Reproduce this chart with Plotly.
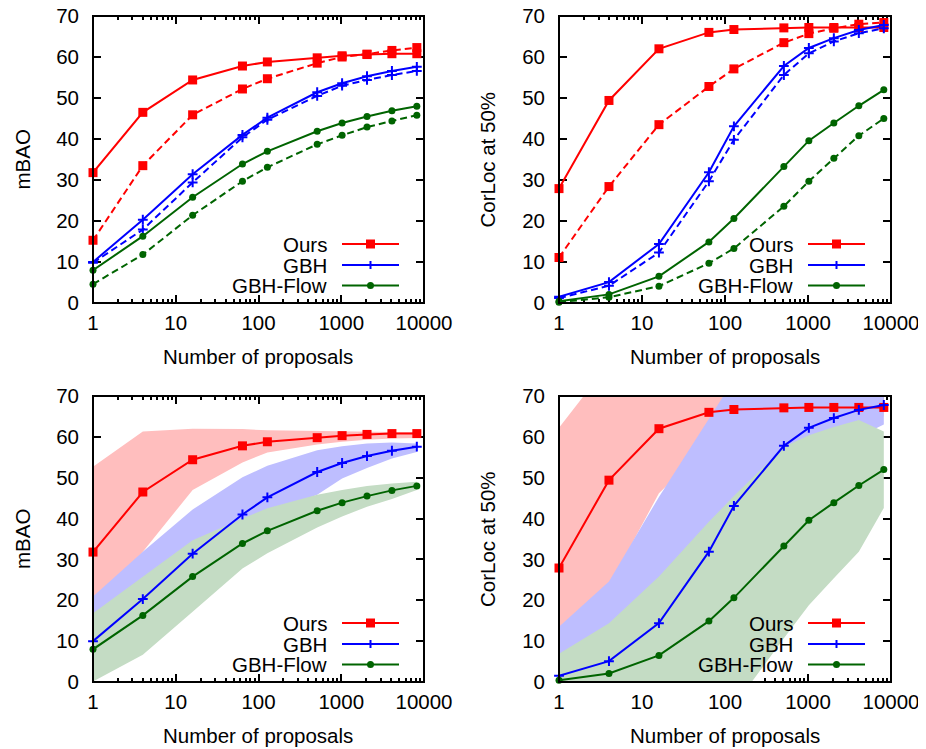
import plotly.graph_objects as go

# the page body adds an 8px margin, so the figure is offset by OFF pixels
OFF = 8
W, H = 918, 741
FONT = "Liberation Sans, Arial, Helvetica, sans-serif"

proposals = [1, 4, 16, 64, 128, 512, 1024, 2048, 4096, 8192]

# Top-left: mBAO (solid = full, dashed = variant)
mbao_ours = [31.8, 46.5, 54.4, 57.8, 58.8, 59.8, 60.3, 60.6, 60.8, 60.8]
mbao_ours_dash = [15.3, 33.5, 45.9, 52.2, 54.7, 58.5, 60.0, 60.7, 61.6, 62.3]
mbao_gbh = [10.0, 20.3, 31.4, 41.0, 45.2, 51.4, 53.6, 55.3, 56.6, 57.6]
mbao_gbh_dash = [9.8, 17.9, 29.4, 40.4, 44.7, 50.5, 53.0, 54.4, 55.6, 56.6]
mbao_flow = [8.0, 16.3, 25.8, 33.9, 37.0, 41.9, 43.9, 45.5, 46.9, 48.0]
mbao_flow_dash = [4.6, 11.8, 21.4, 29.7, 33.1, 38.7, 40.9, 42.9, 44.4, 45.8]

# Top-right: CorLoc at 50%
corloc_ours = [27.9, 49.4, 62.0, 66.0, 66.7, 67.1, 67.2, 67.2, 67.2, 67.2]
corloc_ours_dash = [11.1, 28.4, 43.5, 52.8, 57.1, 63.5, 65.7, 67.0, 68.0, 68.4]
corloc_gbh = [1.5, 5.1, 14.4, 31.9, 43.1, 57.8, 62.2, 64.6, 66.6, 67.8]
corloc_gbh_dash = [1.2, 4.2, 12.3, 29.7, 39.8, 55.6, 60.9, 63.8, 65.8, 67.0]
corloc_flow = [0.4, 2.1, 6.5, 14.9, 20.6, 33.3, 39.6, 43.9, 48.1, 52.0]
corloc_flow_dash = [0.2, 1.4, 4.1, 9.7, 13.3, 23.6, 29.7, 35.3, 40.8, 45.0]

# Bottom-left: mBAO spread bands (upper / lower)
mbao_ours_hi = [52.7, 61.3, 62.0, 61.9, 61.6, 61.4, 61.3, 61.3, 61.2, 61.2]
mbao_ours_lo = [18.0, 31.9, 47.0, 53.7, 56.2, 58.1, 58.8, 59.3, 59.6, 59.7]
mbao_gbh_hi = [20.9, 31.9, 42.2, 50.1, 52.9, 56.7, 57.7, 58.4, 58.6, 58.4]
mbao_gbh_lo = [12.0, 18.0, 26.0, 36.0, 41.0, 45.8, 49.8, 52.4, 54.7, 56.3]
mbao_flow_hi = [16.8, 25.8, 34.7, 40.0, 42.5, 45.8, 47.0, 48.0, 48.6, 49.0]
mbao_flow_lo = [0.1, 6.7, 17.2, 27.8, 31.5, 37.8, 40.5, 42.9, 44.8, 47.0]

# Bottom-right: CorLoc spread bands (upper / lower)
corloc_ours_hi = [62.2, 78.0, 80.0, 79.0, 78.0, 77.0, 76.0, 75.0, 75.0, 74.0]
corloc_ours_lo = [10.0, 23.4, 46.2, 58.0, 62.0, 64.0, 65.0, 65.0, 65.0, 65.0]
corloc_gbh_hi = [13.5, 24.6, 45.3, 64.1, 74.0, 78.0, 77.0, 76.0, 75.0, 74.0]
corloc_gbh_lo = [0.0, 2.0, 8.0, 22.0, 30.0, 44.0, 52.0, 56.0, 60.0, 63.0]
corloc_flow_hi = [6.9, 14.4, 25.8, 39.2, 45.5, 57.5, 60.4, 62.4, 64.1, 61.3]
corloc_flow_lo = [-12.0, -15.0, -15.0, -10.0, -5.9, 10.7, 18.8, 25.4, 31.9, 42.6]

x_ticks = [1, 10, 100, 1000, 10000]
x_tick_labels = ["1", "10", "100", "1000", "10000"]
y_ticks = [0, 10, 20, 30, 40, 50, 60, 70]

series_names = ["Ours", "GBH", "GBH-Flow"]
RED, BLUE, GREEN = "#ff0000", "#0000ff", "#006400"
BAND = {"Ours": "rgb(255,190,190)", "GBH": "rgb(190,190,255)", "GBH-Flow": "rgb(196,220,196)"}
COL = {"Ours": RED, "GBH": BLUE, "GBH-Flow": GREEN}
MARK = {
    "Ours": dict(symbol="square", size=9, color=RED),
    "GBH": dict(symbol="cross-thin", size=7, color=BLUE, line=dict(width=2, color=BLUE)),
    "GBH-Flow": dict(symbol="circle", size=7, color=GREEN),
}

def px(x):
    return (x - OFF) / W

def py(y):
    return 1 - (y - OFF) / H

fig = go.Figure()

def add_line(xa, ya, name, ys, dash=None):
    fig.add_trace(go.Scatter(
        x=proposals, y=ys, mode="lines+markers", xaxis=xa, yaxis=ya,
        line=dict(color=COL[name], width=2, dash=dash),
        marker=MARK[name], cliponaxis=False, showlegend=False, name=name))

def add_band(xa, ya, name, hi, lo):
    fig.add_trace(go.Scatter(
        x=proposals + proposals[::-1], y=hi + lo[::-1], mode="lines",
        fill="toself", fillcolor=BAND[name], line=dict(width=0, color=BAND[name]),
        xaxis=xa, yaxis=ya, showlegend=False, hoverinfo="skip"))

# Panel 1
for name, s, d in zip(series_names, [mbao_ours, mbao_gbh, mbao_flow],
                      [mbao_ours_dash, mbao_gbh_dash, mbao_flow_dash]):
    add_line("x", "y", name, d, dash="7px,4px")
    add_line("x", "y", name, s)
# Panel 2
for name, s, d in zip(series_names, [corloc_ours, corloc_gbh, corloc_flow],
                      [corloc_ours_dash, corloc_gbh_dash, corloc_flow_dash]):
    add_line("x2", "y2", name, d, dash="7px,4px")
    add_line("x2", "y2", name, s)
# Panel 3
for name, hi, lo in zip(series_names, [mbao_ours_hi, mbao_gbh_hi, mbao_flow_hi],
                        [mbao_ours_lo, mbao_gbh_lo, mbao_flow_lo]):
    add_band("x3", "y3", name, hi, lo)
for name, s in zip(series_names, [mbao_ours, mbao_gbh, mbao_flow]):
    add_line("x3", "y3", name, s)
# Panel 4
for name, hi, lo in zip(series_names, [corloc_ours_hi, corloc_gbh_hi, corloc_flow_hi],
                        [corloc_ours_lo, corloc_gbh_lo, corloc_flow_lo]):
    add_band("x4", "y4", name, hi, lo)
for name, s in zip(series_names, [corloc_ours, corloc_gbh, corloc_flow]):
    add_line("x4", "y4", name, s)

# Panels geometry in screen pixels: (left, right, top, bottom)
panels = [(93, 424, 16, 303), (559, 891, 16, 303), (93, 424, 396, 682), (559, 891, 396, 682)]
minor_vals = [m * 10 ** k for k in range(4) for m in range(2, 10)]

axis_font = dict(family=FONT, size=20.5, color="black")
layout = dict(width=W, height=H, margin=dict(l=0, r=0, t=0, b=0, autoexpand=False),
              paper_bgcolor="white", plot_bgcolor="white", template="none",
              font=dict(family=FONT, size=20.5, color="black"), showlegend=False)
shapes, annotations = [], []
for i, (l, r, t, b) in enumerate(panels):
    sfx = "" if i == 0 else str(i + 1)
    layout["xaxis" + sfx] = dict(
        type="log", range=[0, 4], domain=[px(l), px(r)], anchor="y" + sfx,
        automargin=False, ticklabelstandoff=5, ticklabeloverflow="allow",
        tickvals=x_ticks, ticktext=x_tick_labels, ticks="inside", ticklen=8,
        tickwidth=1.5, tickcolor="black", mirror="ticks", showline=False,
        showgrid=False, zeroline=False, tickfont=axis_font, layer="below traces",
        minor=dict(tickvals=minor_vals, ticks="inside", ticklen=4, tickwidth=1.5,
                   tickcolor="black", showgrid=False))
    layout["yaxis" + sfx] = dict(
        range=[0, 70], domain=[py(b), py(t)], anchor="x" + sfx, automargin=False,
        tickvals=y_ticks, ticks="inside", ticklen=8, tickwidth=1.5, tickcolor="black",
        mirror="ticks", showline=False, showgrid=False, zeroline=False,
        tickfont=axis_font, layer="below traces", ticklabelstandoff=13,
        ticklabeloverflow="allow")
    shapes.append(dict(type="rect", xref="paper", yref="paper", x0=px(l), x1=px(r),
                       y0=py(b), y1=py(t), line=dict(color="black", width=2), layer="above"))
    # axis titles
    ytitle = "mBAO" if i % 2 == 0 else "CorLoc at 50%"
    ytx = 22 if i % 2 == 0 else 487
    annotations.append(dict(text=ytitle, xref="paper", yref="paper", x=px(ytx),
                            y=py((t + b) / 2), textangle=-90, showarrow=False,
                            xanchor="center", yanchor="middle", font=axis_font))
    annotations.append(dict(text="Number of proposals", xref="paper", yref="paper",
                            x=px((l + r) / 2), y=py(b + 53), showarrow=False,
                            xanchor="center", yanchor="middle", font=axis_font))
    # legend (text left of sample, gnuplot style)
    tx = l + 235
    lx0, lx1 = l + 249, l + 306
    mx = (lx0 + lx1) / 2
    rows = [b - 59, b - 38, b - 17.5]
    for name, ry in zip(series_names, rows):
        annotations.append(dict(text=name, xref="paper", yref="paper", x=px(tx), y=py(ry),
                                showarrow=False, xanchor="right", yanchor="middle",
                                font=axis_font, borderpad=0))
        shapes.append(dict(type="line", xref="paper", yref="paper", x0=px(lx0), x1=px(lx1),
                           y0=py(ry), y1=py(ry), line=dict(color=COL[name], width=2)))
        if name == "Ours":
            shapes.append(dict(type="rect", xref="paper", yref="paper", x0=px(mx - 4.5),
                               x1=px(mx + 4.5), y0=py(ry + 4.5), y1=py(ry - 4.5),
                               fillcolor=RED, line=dict(width=0)))
        elif name == "GBH":
            shapes.append(dict(type="line", xref="paper", yref="paper", x0=px(mx), x1=px(mx),
                               y0=py(ry + 4), y1=py(ry - 4),
                               line=dict(color=BLUE, width=2)))
        else:
            shapes.append(dict(type="circle", xref="paper", yref="paper", x0=px(mx - 3.5),
                               x1=px(mx + 3.5), y0=py(ry + 3.5), y1=py(ry - 3.5),
                               fillcolor=GREEN, line=dict(width=0)))
layout["shapes"] = shapes
layout["annotations"] = annotations
fig.update_layout(**layout)
fig.write_html("out.html")
